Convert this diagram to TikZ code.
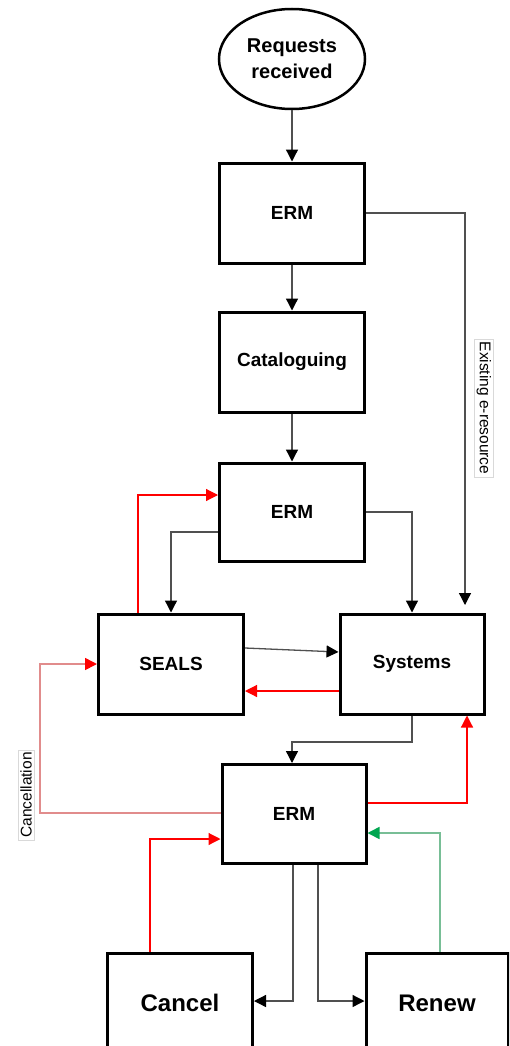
\documentclass[tikz,border=0pt]{standalone}
\usepackage{fontspec}
\setmainfont{Liberation Sans}
\usetikzlibrary{arrows.meta,shapes.geometric}
\definecolor{flowred}{RGB}{255,0,0}
\definecolor{palered}{RGB}{225,140,140}
\definecolor{flowgreen}{RGB}{0,166,80}
\definecolor{palegreen}{RGB}{120,190,150}
\definecolor{linegray}{RGB}{80,80,80}
\tikzset{
  stage/.style={draw=black, line width=3pt, fill=white, minimum width=145pt,
    minimum height=100pt, font=\bfseries\fontsize{19}{24}\selectfont},
  endstage/.style={draw=black, line width=3pt, fill=white, anchor=north,
    minimum width=145pt, inner ysep=0pt, text height=58pt, text depth=90pt,
    font=\bfseries\fontsize{24}{30}\selectfont},
  flow/.style={-{Triangle[length=12pt,width=12pt,color=black]}, draw=linegray, line width=1.3pt},
  back/.style={-{Triangle[length=12pt,width=12pt,color=flowred]}, draw=flowred, line width=1.2pt},
  paleback/.style={-{Triangle[length=12pt,width=12pt,color=flowred]}, draw=palered, line width=1.6pt},
  renewflow/.style={-{Triangle[length=12pt,width=12pt,color=flowgreen]}, draw=palegreen, line width=1.6pt},
  sidelabel/.style={draw=gray!30, fill=white, line width=0.6pt, inner sep=2.5pt,
    font=\fontsize{15.5}{17}\selectfont},
}
\begin{document}
\begin{tikzpicture}[x=1pt, y=-1pt]
  \useasboundingbox (0,0) rectangle (509,1046);
  \fill[white] (0,0) rectangle (509,1046);
  \clip (0,0) rectangle (509,1046);

  % process stages
  \node[ellipse, draw=black, line width=2.5pt, fill=white, minimum width=146pt,
        minimum height=100pt, align=center, font=\bfseries\fontsize{20}{26}\selectfont]
        (req) at (292,59) {Requests\\received};
  \node[stage] (erma) at (292,213) {ERM};
  \node[stage] (cat) at (292,362) {Cataloguing};
  \node[stage, minimum height=98pt] (ermb) at (292,512) {ERM};
  \node[stage] (seals) at (171,664) {SEALS};
  \node[stage, minimum width=144pt] (sys) at (412,664) {Systems};
  \node[stage, minimum width=144pt, minimum height=99pt] (ermc) at (294,814) {ERM};
  \node[endstage] (cancel) at (180,952) {Cancel};
  \node[endstage, minimum width=142pt] (renew) at (437,952) {Renew};

  % helper positions for the routed connectors
  \coordinate (exend) at (465,605);
  \coordinate (cancx) at (40,0);
  \coordinate (sysbend) at (412,742);
  \coordinate (lowrow) at (0,1001);

  % main flow
  \draw[flow] (req) -- (erma);
  \draw[flow] (erma) -- (cat);
  \draw[flow] (cat) -- (ermb);
  \draw[flow] (erma.east) -| (exend);
  \draw[flow] (ermb.east) -| (sys.north);
  \draw[flow] ([yshift=-20pt]ermb.west) -| (seals.north);
  \draw[flow] ([yshift=16pt]seals.east) -- ([yshift=12pt]sys.west);
  \draw[flow] (sys.south) -- (sysbend) -| ([xshift=-2pt]ermc.north);
  \draw[flow] ([xshift=-1pt]ermc.south) |- (cancel.east |- lowrow);
  \draw[flow] ([xshift=24pt]ermc.south) |- (renew.west |- lowrow);

  % returns
  \draw[back] ([xshift=-33pt]seals.north) |- ([yshift=17pt]ermb.west);
  \draw[back] ([yshift=-27pt]sys.west) -- ([yshift=-27pt]seals.east);
  \draw[back] ([yshift=11pt]ermc.east) -| ([xshift=55pt]sys.south);
  \draw[back] ([xshift=-30pt]cancel.north) |- ([yshift=-25pt]ermc.west);
  \draw[paleback] ([yshift=1pt]ermc.west) -| (cancx |- seals.west) -- (seals.west);
  \draw[renewflow] ([xshift=3pt]renew.north) |- ([yshift=-19pt]ermc.east);

  % labels beside the routed lines
  \node[sidelabel, rotate=-90] (exlabel) at (484,408) {Existing e-resource};
  \node[sidelabel, rotate=90] (canclabel) at (26,795) {Cancellation};
\end{tikzpicture}
\end{document}
